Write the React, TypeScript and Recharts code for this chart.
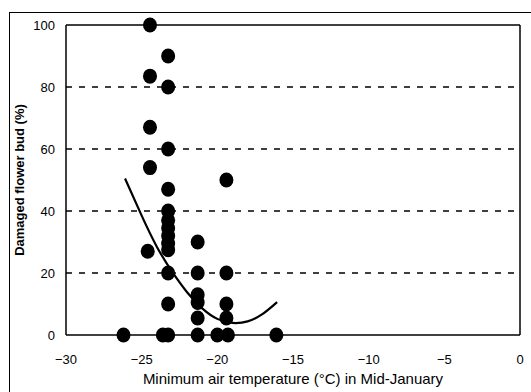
import React from "react";
import {
  ComposedChart,
  Scatter,
  Line,
  XAxis,
  YAxis,
  CartesianGrid,
  ReferenceLine,
} from "recharts";

// observed points: min air temperature (°C) vs damaged flower bud (%)
const temps = [
  -24.45, -24.45, -24.45, -24.45, -24.6, -26.2,
  -23.25, -23.25, -23.25, -23.25, -23.25, -23.25, -23.25, -23.25, -23.25, -23.25, -23.25, -23.25, -23.25,
  -23.6,
  -21.3, -21.3, -21.3, -21.3, -21.3, -21.3,
  -19.4, -19.4, -19.4, -19.4, -19.3,
  -20.0, -16.1,
];
const damage = [
  100, 83.5, 67, 54, 27, 0,
  90, 80, 60, 47, 40, 37, 34.5, 32, 29.5, 27.5, 20, 10, 0,
  0,
  30, 20, 13, 10.5, 5.5, 0,
  50, 20, 10, 5.5, 0,
  0, 0,
];

// fitted curve
const curveX = [-26.1, -25, -24, -23, -22, -21, -20, -19, -18, -17, -16.05];
const curveY = [50.5, 38.5, 28.5, 20.5, 13.8, 8.6, 5.2, 3.9, 4.4, 6.8, 10.6];

const xTicks = [-30, -25, -20, -15, -10, -5, 0];
const yTicks = [0, 20, 40, 60, 80, 100];

const points = temps.map((x, i) => ({ x, y: damage[i] }));
const curve = curveX.map((x, i) => ({ x, y: curveY[i] }));

const font = "'Liberation Sans', Arial, sans-serif";

const Dot = (props: any) => {
  const { cx, cy } = props;
  if (cx == null || cy == null) return null;
  return <ellipse cx={cx} cy={cy} rx={7} ry={7.5} fill="#000" />;
};

export default function App() {
  return (
    <div style={{ position: "absolute", left: 0, top: 0, width: 531, height: 392, background: "#fff", overflow: "hidden" }}>
      <div
        style={{
          position: "absolute",
          left: 9,
          top: 12,
          width: 540,
          height: 400,
          border: "1.5px solid #000",
          boxSizing: "border-box",
        }}
      />
      <ComposedChart
        width={531}
        height={392}
        margin={{ top: 25, right: 11, bottom: 0, left: 0 }}
        style={{ position: "absolute", left: 0, top: 0 }}
      >
        <CartesianGrid
          horizontal
          vertical={false}
          horizontalValues={[20, 40, 60, 80]}
          stroke="#000"
          strokeDasharray="6 7"
          strokeWidth={1.5}
        />
        <XAxis
          dataKey="x"
          type="number"
          domain={[-30, 0]}
          ticks={xTicks}
          allowDataOverflow
          height={57}
          tickLine={false}
          tickMargin={14}
          axisLine={{ stroke: "#000", strokeWidth: 1.5 }}
          tick={{ fill: "#000", fontSize: 13, fontFamily: font }}
          tickFormatter={(v: number) => (v < 0 ? `\u2212${Math.abs(v)}` : `${v}`)}
          label={{
            value: "Minimum air temperature (\u00b0C) in Mid-January",
            position: "insideBottom",
            offset: 8,
            fill: "#000",
            fontSize: 15,
            fontFamily: font,
          }}
        />
        <YAxis
          dataKey="y"
          type="number"
          domain={[0, 100]}
          ticks={yTicks}
          width={66}
          tickLine={false}
          tickMargin={5}
          axisLine={{ stroke: "#000", strokeWidth: 1.5 }}
          tick={{ fill: "#000", fontSize: 13, fontFamily: font }}
          label={{
            value: "Damaged flower bud  (%)",
            angle: -90,
            position: "insideLeft",
            offset: 19,
            fill: "#000",
            fontSize: 13,
            fontWeight: "bold",
            fontFamily: font,
            style: { textAnchor: "middle" },
          }}
        />
        <ReferenceLine y={100} stroke="#000" strokeWidth={1.5} />
        <ReferenceLine x={0} stroke="#000" strokeWidth={1.5} />
        <Line
          data={curve}
          dataKey="y"
          type="natural"
          stroke="#000"
          strokeWidth={2.2}
          dot={false}
          activeDot={false}
          isAnimationActive={false}
        />
        <Scatter data={points} dataKey="y" fill="#000" shape={<Dot />} isAnimationActive={false} />
      </ComposedChart>
    </div>
  );
}
